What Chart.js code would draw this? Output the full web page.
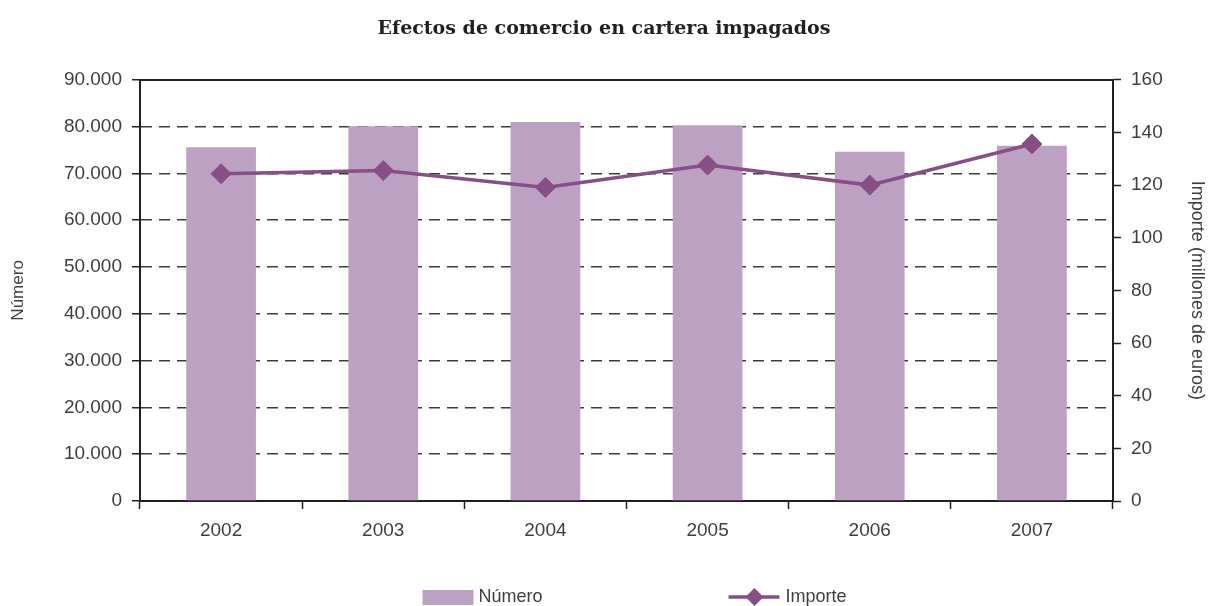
<!DOCTYPE html>
<html>
<head>
<meta charset="utf-8">
<script src="https://cdn.jsdelivr.net/npm/chart.js@4"></script>
<style>
  html, body { margin: 0; padding: 0; background: #fff; }
  #wrap { width: 1208px; height: 606px; }
</style>
</head>
<body>
<div id="wrap"><canvas id="chart_efectos"></canvas></div>
<script>
// datos
let years = ['2002', '2003', '2004', '2005', '2006', '2007']
let numero = [75600, 80100, 81000, 80300, 74600, 75900]
let importe = [124.3, 125.5, 119.1, 127.6, 120.0, 135.6]

let barColor = '#bda1c3'
let lineColor = '#874f86'
let axisColor = '#231f20'
let gridColor = '#3c3c3c'
let textColor = '#3e3e3e'
let sansFont = "'Liberation Sans', Arial, sans-serif"

const fmtMiles = v => String(v).replace(/\B(?=(\d{3})+(?!\d))/g, '.')

// leyenda abajo, la de chart.js no deja separar tanto los items
const bottomLegend = {
  id: 'bottomLegend',
  afterDraw(chart) {
    let ctx = chart.ctx
    let area = chart.chartArea
    let cx = (area.left + area.right) / 2
    let y = chart.height - 9
    let sets = chart.data.datasets
    ctx.save()
    ctx.font = '18px ' + sansFont
    ctx.fillStyle = textColor
    ctx.textBaseline = 'middle'
    ctx.textAlign = 'left'

    // Número
    let x1 = cx - 204
    ctx.fillStyle = sets[0].backgroundColor
    ctx.fillRect(x1, y - 7, 51, 15)
    ctx.fillStyle = textColor
    ctx.fillText(sets[0].label, x1 + 56, y)

    // Importe
    let x2 = cx + 102
    ctx.strokeStyle = sets[1].borderColor
    ctx.lineWidth = 3.5
    ctx.beginPath()
    ctx.moveTo(x2, y)
    ctx.lineTo(x2 + 51, y)
    ctx.stroke()
    ctx.fillStyle = sets[1].borderColor
    ctx.beginPath()
    ctx.moveTo(x2 + 26, y - 9)
    ctx.lineTo(x2 + 35, y)
    ctx.lineTo(x2 + 26, y + 9)
    ctx.lineTo(x2 + 17, y)
    ctx.closePath()
    ctx.fill()
    ctx.fillStyle = textColor
    ctx.fillText(sets[1].label, x2 + 57, y)
    ctx.restore()
  }
}

const ctx = document.getElementById('chart_efectos')

new Chart(ctx, {
  type: 'bar',
  data: {
    labels: years,
    datasets: [{
      type: 'bar',
      label: 'Número',
      data: numero,
      yAxisID: 'y',
      backgroundColor: barColor,
      borderWidth: 0,
      barPercentage: 0.43,
      categoryPercentage: 1,
      order: 1
    }, {
      type: 'line',
      label: 'Importe',
      data: importe,
      yAxisID: 'y1',
      borderColor: lineColor,
      backgroundColor: lineColor,
      borderWidth: 3.5,
      pointStyle: 'rectRot',
      pointRadius: 10,
      pointBackgroundColor: lineColor,
      pointBorderColor: lineColor,
      pointBorderWidth: 1,
      tension: 0,
      order: 0
    }]
  },
  options: {
    responsive: true,
    maintainAspectRatio: false,
    animation: false,
    layout: {
      padding: { left: 0, right: 0, top: 0, bottom: 65 }
    },
    plugins: {
      legend: { display: false },
      tooltip: { enabled: false },
      title: {
        display: true,
        text: 'Efectos de comercio en cartera impagados',
        color: axisColor,
        font: { family: "'DejaVu Serif', serif", size: 19, weight: 'bold' },
        padding: { top: 18, bottom: 39 }
      }
    },
    scales: {
      x: {
        type: 'category',
        position: 'bottom',
        offset: true,
        grid: {
          offset: true,
          drawOnChartArea: false,
          drawTicks: true,
          tickLength: 8,
          tickWidth: 1.5,
          tickColor: axisColor
        },
        border: { display: true, color: axisColor, width: 2 },
        ticks: {
          color: textColor,
          padding: 10,
          font: { family: sansFont, size: 19 }
        },
        afterFit: s => { s.height = 40 }
      },
      xTop: {
        type: 'category',
        position: 'top',
        offset: true,
        grid: { display: false, drawTicks: false },
        border: { display: true, color: axisColor, width: 2 },
        ticks: { display: false },
        afterFit: s => { s.height = 0 }
      },
      y: {
        type: 'linear',
        position: 'left',
        min: 0,
        max: 90000,
        grid: {
          color: gridColor,
          lineWidth: 1.5,
          drawTicks: true,
          tickLength: 8,
          tickWidth: 1.5,
          tickColor: axisColor
        },
        border: { display: true, color: axisColor, width: 2, dash: [11, 7] },
        ticks: {
          stepSize: 10000,
          color: textColor,
          padding: 10,
          font: { family: sansFont, size: 19 },
          callback: v => fmtMiles(v)
        },
        title: {
          display: true,
          text: 'Número',
          color: textColor,
          font: { family: sansFont, size: 17 },
          padding: { top: 8, bottom: 0 }
        },
        afterFit: s => { s.width = 140 }
      },
      y1: {
        type: 'linear',
        position: 'right',
        min: 0,
        max: 160,
        grid: {
          drawOnChartArea: false,
          drawTicks: true,
          tickLength: 8,
          tickWidth: 1.5,
          tickColor: axisColor
        },
        border: { display: true, color: axisColor, width: 2 },
        ticks: {
          stepSize: 20,
          color: textColor,
          padding: 10,
          font: { family: sansFont, size: 19 }
        },
        title: {
          display: true,
          text: 'Importe (millones de euros)',
          color: textColor,
          font: { family: sansFont, size: 18 },
          padding: { top: 0, bottom: 0 }
        },
        afterFit: s => { s.width = 95 }
      }
    }
  },
  plugins: [bottomLegend]
})
</script>
</body>
</html>
